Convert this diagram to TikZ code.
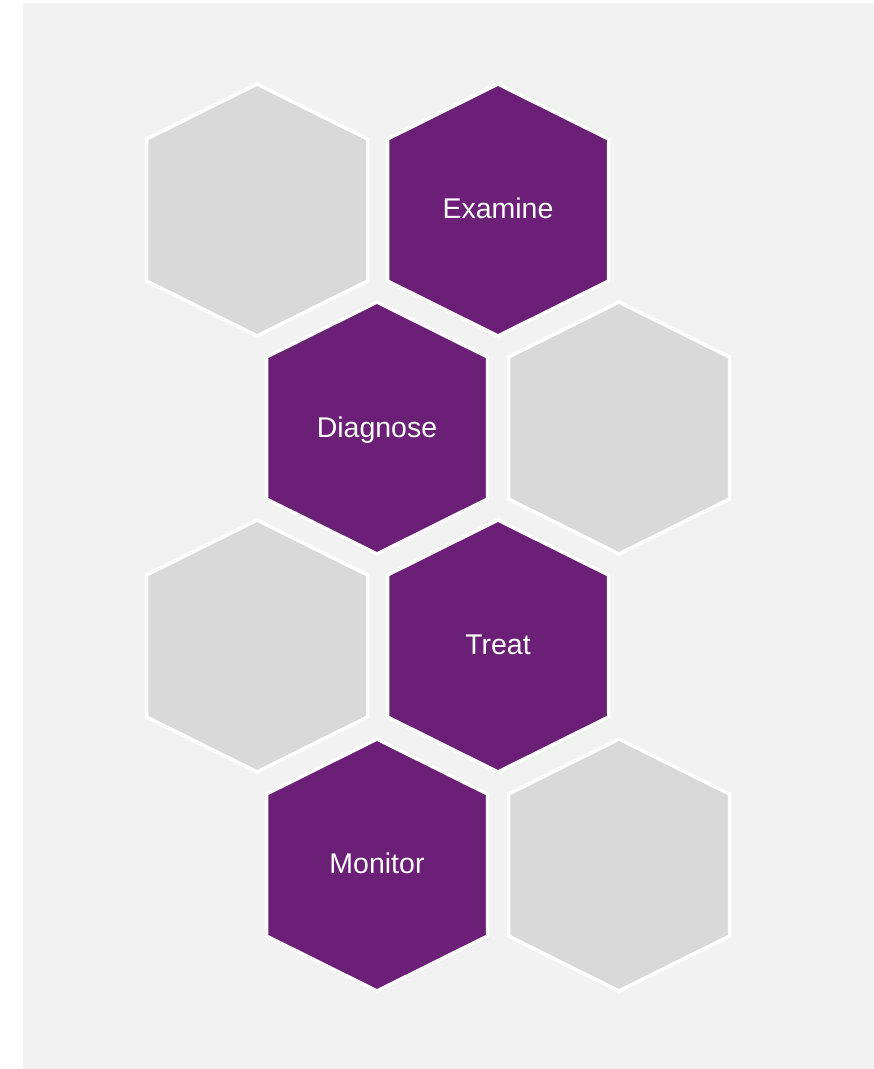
\documentclass[tikz,border=0pt]{standalone}
\usepackage{fontspec}
\setmainfont{Liberation Sans}
\usepackage{tikz}

\definecolor{hexpurple}{HTML}{6B1F77}
\definecolor{hexgray}{HTML}{D9D9D9}
\definecolor{backgray}{HTML}{F2F2F2}

\begin{document}
\begin{tikzpicture}[x=1pt, y=-1pt,
    hexcell/.style = {draw=white, line width=3.5pt, line join=miter},
    hexlabel/.style = {text=white, font=\fontsize{28.5}{34}\selectfont}]
    \useasboundingbox (0,0) rectangle (874,1069);
    \fill[backgray] (23,3) rectangle (874,1069);
    % grey cells
    \foreach \cx/\cy in {257/210, 619/428, 257/646, 619/865}
        \draw[hexcell, fill=hexgray] (\cx,\cy) ++(0,-126) -- ++(110.5,55) -- ++(0,142) -- ++(-110.5,55) -- ++(-110.5,-55) -- ++(0,-142) -- cycle;
    % purple cells
    \foreach \cx/\cy in {498/210, 377/428, 498/646, 377/865}
        \draw[hexcell, fill=hexpurple] (\cx,\cy) ++(0,-126) -- ++(110.5,55) -- ++(0,142) -- ++(-110.5,55) -- ++(-110.5,-55) -- ++(0,-142) -- cycle;
    \node[hexlabel] (examine) at (498,208) {Examine};
    \node[hexlabel] (diagnose) at (377,430) {Diagnose};
    \node[hexlabel] (treat) at (498,645) {Treat};
    \node[hexlabel] (monitor) at (377,863) {Monitor};
\end{tikzpicture}
\end{document}
